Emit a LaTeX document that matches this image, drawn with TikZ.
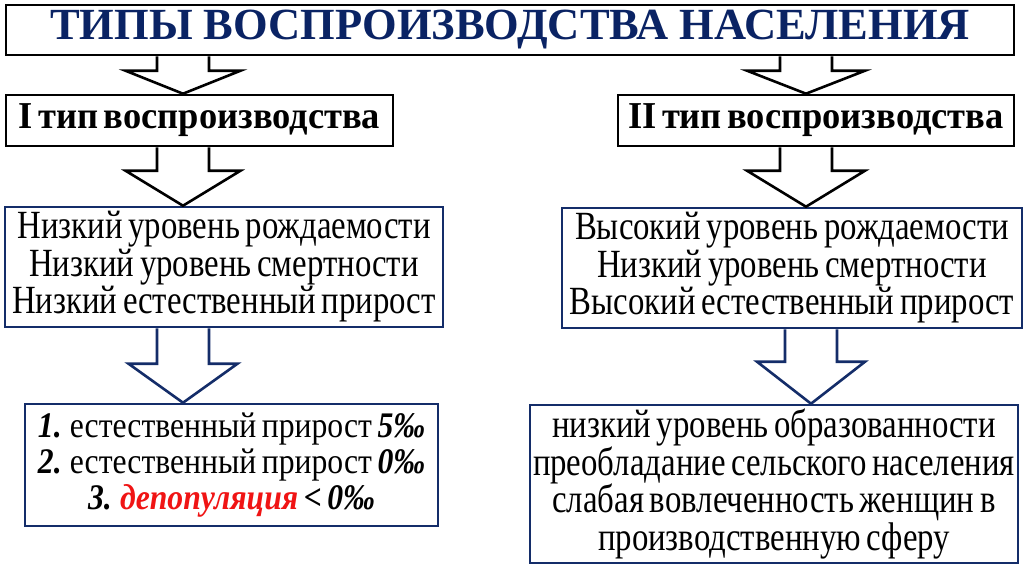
\documentclass[tikz,border=0pt]{standalone}
\usepackage{fontspec}
\setmainfont{Liberation Serif}
\newfontfamily\bodyfont[FakeStretch=0.82,WordSpace=0.7]{Liberation Serif}
\newfontfamily\bodyfontb[FakeStretch=0.88,WordSpace=0.7]{Liberation Serif}
\newfontfamily\headfont[FakeStretch=0.96,WordSpace=0.6]{Liberation Serif}
\usetikzlibrary{calc}
\definecolor{navy}{RGB}{20,45,105}
\definecolor{titleblue}{RGB}{10,35,100}
\definecolor{depred}{RGB}{240,20,20}
\newcommand\hollowarrow[6]{%
  \draw[#1, line width=2.6pt, fill=white, line join=miter]
    ($(#2 |- #3.south)+(-26,0)$) --
    ($(#2 |- #4.north)+(-26,-#5)$) --
    ($(#2 |- #4.north)+(-#6,-#5)$) --
    (#2 |- #4.north) --
    ($(#2 |- #4.north)+(#6,-#5)$) --
    ($(#2 |- #4.north)+(26,-#5)$) --
    ($(#2 |- #3.south)+(26,0)$);}
\begin{document}
\begin{tikzpicture}[x=1pt,y=-1pt,
  box/.style={draw=black, line width=2.6pt, fill=white, inner sep=0pt, align=center},
  bluebox/.style={box, draw=navy}]
\useasboundingbox (0,0) rectangle (1024,574);
\fill[white] (0,0) rectangle (1024,574);
\coordinate (lc) at (183,0);
\coordinate (rc) at (806,0);
\coordinate (rc3) at (811,0);
\node[box, minimum width=1008pt, minimum height=50pt, text=titleblue,
  font={\fontsize{44.5}{44.5}\selectfont\bfseries}] (title) at (510,30)
  {ТИПЫ ВОСПРОИЗВОДСТВА НАСЕЛЕНИЯ};
\node[box, minimum width=387pt, minimum height=51pt,
  font={\headfont\fontsize{38}{38}\selectfont\bfseries}] (t1) at (199.5,120.5)
  {I тип воспроизводства};
\node[box, minimum width=396pt, minimum height=51pt,
  font={\headfont\fontsize{38}{38}\selectfont\bfseries}] (t2) at (816,120.5)
  {II тип воспроизводства};
\node[bluebox, minimum width=438pt, minimum height=120pt,
  font={\bodyfont\fontsize{40}{37.5}\selectfont}] (l1) at (224,267)
  {Низкий уровень рождаемости\\Низкий уровень смертности\\Низкий естественный прирост};
\node[bluebox, minimum width=460pt, minimum height=120pt,
  font={\bodyfont\fontsize{40}{37.5}\selectfont}] (r1) at (792,268)
  {Высокий уровень рождаемости\\Низкий уровень смертности\\Высокий естественный прирост};
\node[bluebox, minimum width=413pt, minimum height=122pt,
  font={\bodyfontb\fontsize{36}{36}\selectfont}] (l2) at (231.5,465)
  {\textbf{\textit{1.}} естественный прирост \textbf{\textit{5‰}}\\\textbf{\textit{2.}} естественный прирост \textbf{\textit{0‰}}\\\textbf{\textit{3. {\color{depred}депопуляция} < 0‰}}};
\node[bluebox, minimum width=488pt, minimum height=158pt,
  font={\bodyfont\fontsize{40}{37.5}\selectfont}] (r2) at (774,484)
  {низкий уровень образованности\\преобладание сельского населения\\слабая вовлеченность женщин в\\производственную сферу};
\hollowarrow{draw=black}{lc}{title}{t1}{23}{57.5}
\hollowarrow{draw=black}{lc}{t1}{l1}{35}{57.5}
\hollowarrow{draw=navy}{lc}{l1}{l2}{39}{54.5}
\hollowarrow{draw=black}{rc}{title}{t2}{23}{59}
\hollowarrow{draw=black}{rc}{t2}{r1}{36}{59}
\hollowarrow{draw=navy}{rc3}{r1}{r2}{42}{54}
\end{tikzpicture}
\end{document}
